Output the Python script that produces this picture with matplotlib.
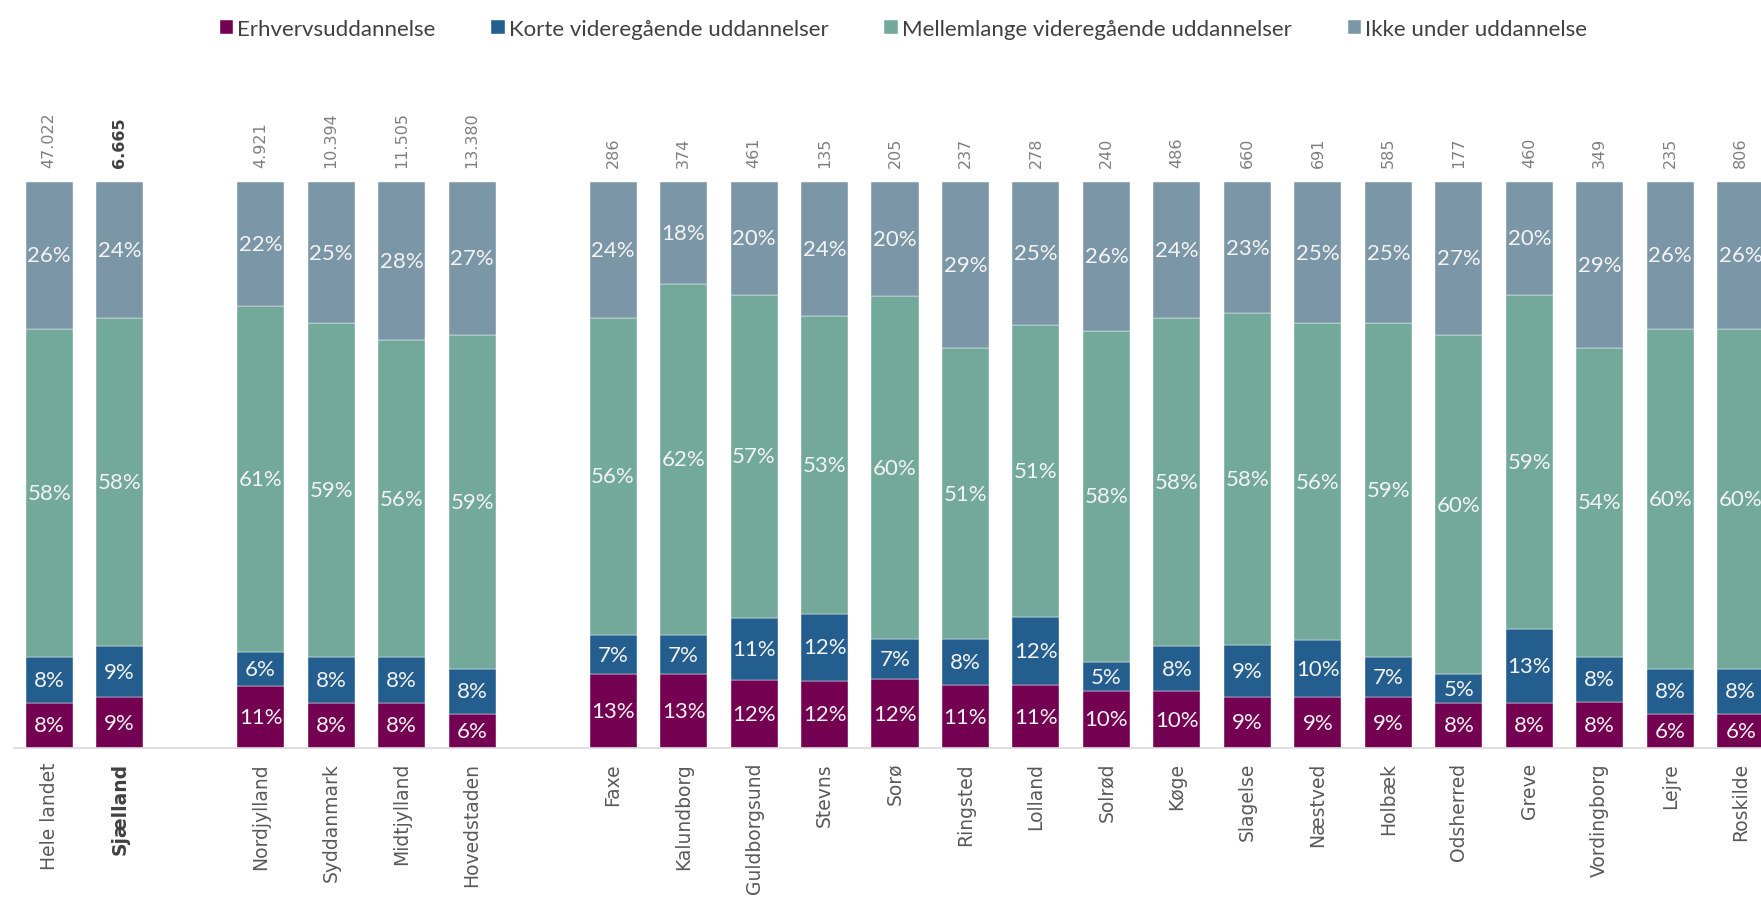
import numpy as np
import matplotlib.pyplot as plt

# categories in three groups (a gap is left between groups)
groups = [
    ["Hele landet", "Sjælland"],
    ["Nordjylland", "Syddanmark", "Midtjylland", "Hovedstaden"],
    ["Faxe", "Kalundborg", "Guldborgsund", "Stevns", "Sorø", "Ringsted", "Lolland",
     "Solrød", "Køge", "Slagelse", "Næstved", "Holbæk", "Odsherred", "Greve",
     "Vordingborg", "Lejre", "Roskilde"],
]
totals = ["47.022", "6.665",
          "4.921", "10.394", "11.505", "13.380",
          "286", "374", "461", "135", "205", "237", "278", "240", "486", "660",
          "691", "585", "177", "460", "349", "235", "806"]

series = ["Erhvervsuddannelse", "Korte videregående uddannelser",
          "Mellemlange videregående uddannelser", "Ikke under uddannelse"]
erhverv = [8, 9, 11, 8, 8, 6, 13, 13, 12, 12, 12, 11, 11, 10, 10, 9, 9, 9, 8, 8, 8, 6, 6]
korte = [8, 9, 6, 8, 8, 8, 7, 7, 11, 12, 7, 8, 12, 5, 8, 9, 10, 7, 5, 13, 8, 8, 8]
mellem = [58, 58, 61, 59, 56, 59, 56, 62, 57, 53, 60, 51, 51, 58, 58, 58, 56, 59, 60, 59, 54, 60, 60]
ikke = [26, 24, 22, 25, 28, 27, 24, 18, 20, 24, 20, 29, 25, 26, 24, 23, 25, 25, 27, 20, 29, 26, 26]
colors = ["#740051", "#235E8E", "#73A99A", "#7B96A6"]
bold_label = "Sjælland"

labels = [c for g in groups for c in g]
pos = []
p = 0
for g in groups:
    for _ in g:
        pos.append(p)
        p += 1
    p += 1
pos = np.array(pos)

vals = np.array([erhverv, korte, mellem, ikke], dtype=float)
shares = vals / vals.sum(axis=0) * 100

fig = plt.figure(figsize=(17.61, 9.03), dpi=100)
ax = fig.add_axes([14 / 1761, 0.1705, 1762 / 1761, 0.627])

bottom = np.zeros(len(labels))
handles = []
for i, name in enumerate(series):
    b = ax.bar(pos, shares[i], 0.667, bottom=bottom, color=colors[i],
               edgecolor="white", linewidth=0.3, label=name)
    handles.append(b)
    for x, y0, h, v in zip(pos, bottom, shares[i], vals[i]):
        ax.text(x, y0 + h / 2, f"{int(v)}%", ha="center", va="center",
                color="#F4F4F4", fontsize=16, family="Lato")
    bottom += shares[i]

for x, t, lab in zip(pos, totals, labels):
    bold = lab == bold_label
    ax.annotate(t, (x, 100), xytext=(0, 11), textcoords="offset points",
                rotation=90, ha="center", va="bottom", fontsize=11.5,
                color="#404040" if bold else "#7F7F7F",
                fontweight="bold" if bold else "normal")

ax.set_xlim(-0.5, 24.5)
ax.set_ylim(0, 100)
ax.set_xticks(pos)
ax.set_xticklabels(labels, rotation=90, fontsize=13.5, color="#595959")
for tl in ax.get_xticklabels():
    if tl.get_text() == bold_label:
        tl.set_fontweight("bold")
        tl.set_color("#404040")
ax.tick_params(axis="x", length=0, pad=10)
ax.set_yticks([])
for s in ["top", "right", "left"]:
    ax.spines[s].set_visible(False)
ax.spines["bottom"].set_color("#D9D9D9")
ax.spines["bottom"].set_linewidth(1.2)

leg = fig.legend(handles=handles, labels=series, loc="upper center",
                 bbox_to_anchor=(0.513, 1.0), ncol=4, frameon=False,
                 handlelength=0.6, handleheight=0.6, handletextpad=0.2,
                 columnspacing=2.5, prop={"family": "Lato", "size": 16})
for t in leg.get_texts():
    t.set_color("#404040")

fig.savefig("out.png", dpi=100)
